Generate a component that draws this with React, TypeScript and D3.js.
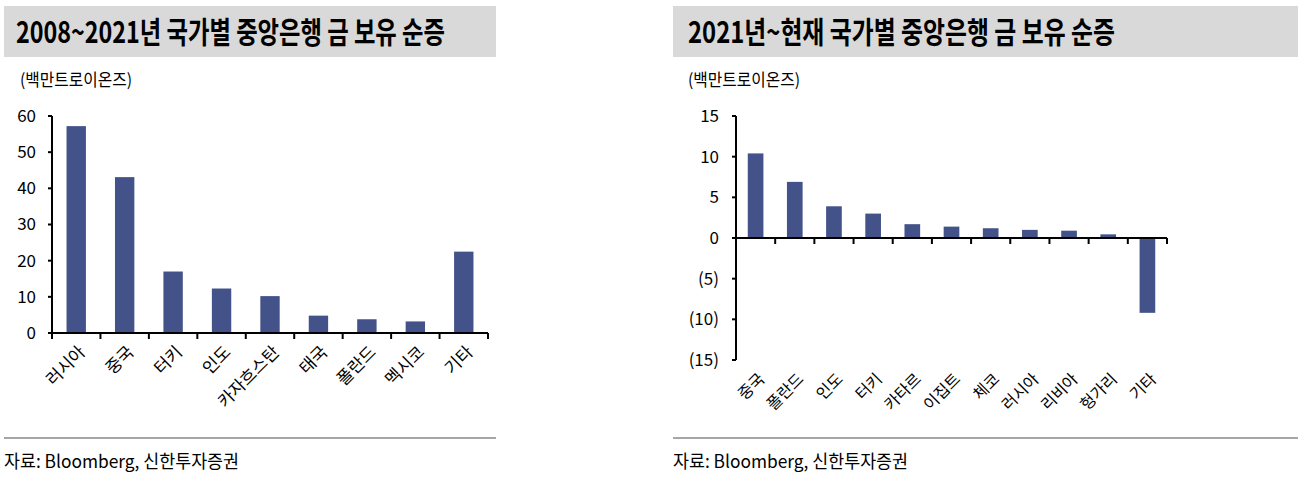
import React, { useEffect, useRef } from "react";
import * as d3 from "d3";

// 2008~2021 net increase
const leftCategories = ["러시아", "중국", "터키", "인도", "카자흐스탄", "태국", "폴란드", "멕시코", "기타"];
const leftValues = [57.2, 43.1, 17.0, 12.3, 10.2, 4.8, 3.8, 3.2, 22.5];
const leftTicks = [0, 10, 20, 30, 40, 50, 60];

// 2021~now net increase
const rightCategories = ["중국", "폴란드", "인도", "터키", "카타르", "이집트", "체코", "러시아", "리비아", "헝가리", "기타"];
const rightValues = [10.4, 6.9, 3.9, 3.0, 1.7, 1.4, 1.2, 1.0, 0.9, 0.45, -9.2];
const rightTicks = [-15, -10, -5, 0, 5, 10, 15];

const W = 1302;
const H = 485;
const BAR = "#44528a";
const FONT = "'Noto Sans CJK KR', 'Noto Sans', sans-serif";

const fmt = (v: number) => (v < 0 ? `(${Math.abs(v)})` : `${v}`);

interface PanelCfg {
  x0: number;
  bandX0: number;
  bandX1: number;
  title: string;
  titleX: number;
  titleLen: number;
  unitX: number;
  categories: string[];
  values: number[];
  ticks: number[];
  plotX0: number;
  plotX1: number;
  yTop: number;
  yBottom: number;
  labelAtBottom: boolean;
  labelSize: number;
  tickLabelX: number;
}

function drawPanel(svg: d3.Selection<SVGSVGElement, unknown, null, undefined>, c: PanelCfg) {
  const g = svg.append("g");

  // title band
  g.append("rect")
    .attr("x", c.bandX0)
    .attr("y", 6)
    .attr("width", c.bandX1 - c.bandX0)
    .attr("height", 51)
    .attr("fill", "#d9d9d9");
  g.append("text")
    .attr("x", c.titleX)
    .attr("y", 43)
    .attr("font-size", 30)
    .attr("font-weight", "bold")
    .attr("textLength", c.titleLen)
    .attr("lengthAdjust", "spacingAndGlyphs")
    .attr("fill", "#000")
    .text(c.title);

  // unit
  g.append("text")
    .attr("x", c.unitX)
    .attr("y", 86)
    .attr("font-size", 17)
    .attr("textLength", 112)
    .attr("lengthAdjust", "spacingAndGlyphs")
    .text("(백만트로이온즈)");

  const y = d3
    .scaleLinear()
    .domain(d3.extent(c.ticks) as [number, number])
    .range([c.yBottom, c.yTop]);
  const x = d3.scaleBand<string>().domain(c.categories).range([c.plotX0, c.plotX1]).paddingInner(0).paddingOuter(0);
  const bw = x.bandwidth() * 0.4;

  // bars
  g.selectAll("rect.bar")
    .data(c.values)
    .enter()
    .append("rect")
    .attr("class", "bar")
    .attr("x", (_, i) => (x(c.categories[i]) as number) + x.bandwidth() / 2 - bw / 2)
    .attr("y", (d) => y(Math.max(0, d)))
    .attr("width", bw)
    .attr("height", (d) => Math.abs(y(d) - y(0)))
    .attr("fill", BAR);

  // y axis
  g.append("line")
    .attr("x1", c.plotX0)
    .attr("x2", c.plotX0)
    .attr("y1", y.range()[1])
    .attr("y2", y.range()[0])
    .attr("stroke", "#000")
    .attr("stroke-width", 2);
  c.ticks.forEach((t) => {
    g.append("line")
      .attr("x1", c.plotX0 - 4)
      .attr("x2", c.plotX0)
      .attr("y1", y(t))
      .attr("y2", y(t))
      .attr("stroke", "#000")
      .attr("stroke-width", 2);
    g.append("text")
      .attr("x", c.tickLabelX)
      .attr("y", y(t))
      .attr("dy", "0.35em")
      .attr("text-anchor", "end")
      .attr("font-size", 17)
      .text(fmt(t));
  });

  // x axis at zero
  const y0 = y(0);
  g.append("line")
    .attr("x1", c.plotX0)
    .attr("x2", c.plotX1)
    .attr("y1", y0)
    .attr("y2", y0)
    .attr("stroke", "#000")
    .attr("stroke-width", 2);
  const edges = c.categories.map((k) => x(k) as number).concat([c.plotX1]);
  edges.forEach((e) => {
    g.append("line")
      .attr("x1", e)
      .attr("x2", e)
      .attr("y1", y0)
      .attr("y2", y0 + 6)
      .attr("stroke", "#000")
      .attr("stroke-width", 2);
  });

  // category labels
  const ly = c.labelAtBottom ? c.yBottom + 16 : y0 + 16;
  c.categories.forEach((k) => {
    const cx = (x(k) as number) + x.bandwidth() / 2 + 6;
    g.append("text")
      .attr("transform", `translate(${cx},${ly}) rotate(-45)`)
      .attr("text-anchor", "end")
      .attr("dy", "0.35em")
      .attr("font-size", c.labelSize)
      .text(k);
  });

  // source rule and text
  g.append("line")
    .attr("x1", c.bandX0)
    .attr("x2", c.bandX1)
    .attr("y1", 438)
    .attr("y2", 438)
    .attr("stroke", "#a6a6a6")
    .attr("stroke-width", 2);
  g.append("text")
    .attr("x", c.bandX0)
    .attr("y", 468)
    .attr("font-size", 18)
    .attr("textLength", 235)
    .attr("lengthAdjust", "spacingAndGlyphs")
    .text("자료: Bloomberg, 신한투자증권");
}

export default function App() {
  const ref = useRef<SVGSVGElement>(null);

  useEffect(() => {
    if (!ref.current) return;
    const svg = d3.select(ref.current);
    svg.selectAll("*").remove();

    drawPanel(svg, {
      x0: 0,
      bandX0: 4,
      bandX1: 496,
      title: "2008~2021년 국가별 중앙은행 금 보유 순증",
      titleX: 16,
      titleLen: 429,
      unitX: 20,
      categories: leftCategories,
      values: leftValues,
      ticks: leftTicks,
      plotX0: 52,
      plotX1: 488,
      yTop: 116,
      yBottom: 333,
      labelAtBottom: false,
      labelSize: 17,
      tickLabelX: 36,
    });

    drawPanel(svg, {
      x0: 660,
      bandX0: 673,
      bandX1: 1298,
      title: "2021년~현재 국가별 중앙은행 금 보유 순증",
      titleX: 688,
      titleLen: 427,
      unitX: 688,
      categories: rightCategories,
      values: rightValues,
      ticks: rightTicks,
      plotX0: 736,
      plotX1: 1167,
      yTop: 116,
      yBottom: 360,
      labelAtBottom: true,
      labelSize: 16,
      tickLabelX: 719,
    });
  }, []);

  return (
    <div style={{ position: "absolute", left: 0, top: 0 }}>
      <svg ref={ref} width={W} height={H} style={{ display: "block", fontFamily: FONT, background: "#fff" }} />
    </div>
  );
}
